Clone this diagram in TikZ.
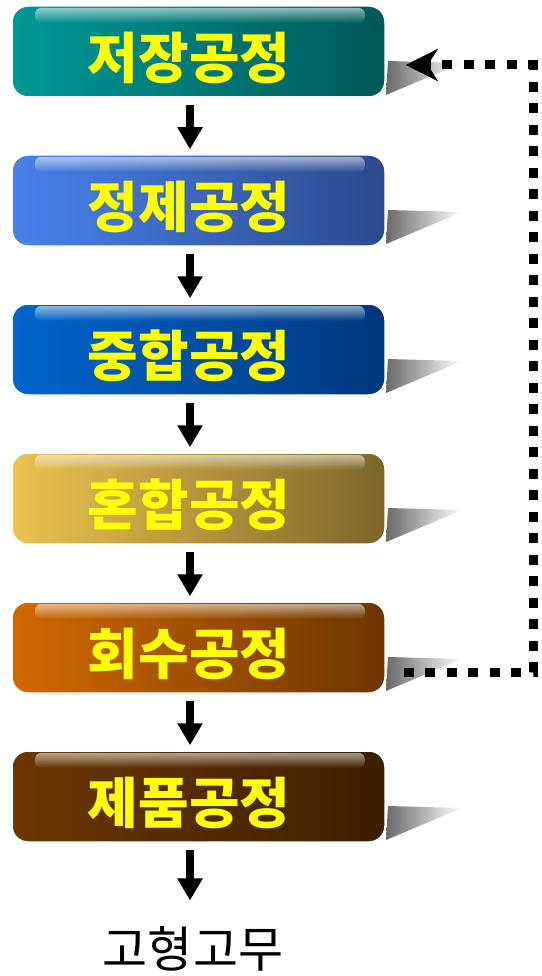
\documentclass[tikz,border=0pt]{standalone}
\usepackage{fontspec}
\newfontfamily\krfont{Noto Sans CJK KR}
\usetikzlibrary{arrows.meta,fadings,calc}
\definecolor{c1l}{RGB}{0,152,150}\definecolor{c1r}{RGB}{0,88,88}
\definecolor{c2l}{RGB}{72,130,235}\definecolor{c2r}{RGB}{44,74,140}
\definecolor{c3l}{RGB}{0,102,205}\definecolor{c3r}{RGB}{0,55,125}
\definecolor{c4l}{RGB}{236,194,80}\definecolor{c4r}{RGB}{125,102,42}
\definecolor{c5l}{RGB}{210,105,0}\definecolor{c5r}{RGB}{108,54,0}
\definecolor{c6l}{RGB}{108,54,0}\definecolor{c6r}{RGB}{60,30,0}
\definecolor{shgray}{RGB}{105,105,105}
\definecolor{txtyellow}{RGB}{255,255,0}
\tikzset{
  x=1pt,y=-1pt,
  procbox/.style={rounded corners=16pt, minimum width=373pt, minimum height=91pt,
    draw=white, line width=1.5pt, inner sep=0pt},
  boxtext/.style={font=\krfont\bfseries\fontsize{55}{58}\selectfont, text=txtyellow, inner sep=0pt},
  flowarrow/.style={line width=8pt, -{Triangle[length=22pt,width=24pt]}, shorten <=7pt, shorten >=5pt},
  feedback/.style={line width=9pt, dash pattern=on 10pt off 11.5pt,
    -{Stealth[length=32pt,width=32pt,inset=10pt]}},
}
\newcommand{\procstep}[4]{% #1 name, #2 top y, #3 color base, #4 text
  \shade[left color=shgray, right color=white]
    (388,#2+55) -- (462,#2+57) -- (386,#2+89) -- cycle;
  \node[procbox, left color=#3l, right color=#3r] (#1) at (198.5,#2+45.5) {};
  \fill[white, fill opacity=0.55, path fading=south, rounded corners=6pt]
    (35,#2+2) rectangle (365,#2+17);
  \node[boxtext] (#1t) at (189,#2+52) {#4};
}
\begin{document}
\begin{tikzpicture}
\useasboundingbox (0,0) rectangle (541,976);
\fill[white] (0,0) rectangle (541,976);
\procstep{b1}{6}{c1}{저장공정}
\procstep{b2}{155}{c2}{정제공정}
\procstep{b3}{304}{c3}{중합공정}
\procstep{b4}{453}{c4}{혼합공정}
\procstep{b5}{602}{c5}{회수공정}
\procstep{b6}{751}{c6}{제품공정}
\node[font=\krfont\fontsize{49}{52}\selectfont, inner sep=0pt] (out) at (193,949) {고형고무};
\foreach \a/\b in {b1/b2,b2/b3,b3/b4,b4/b5,b5/b6}{
  \draw[flowarrow] ([xshift=-8.5pt]\a.south) -- ([xshift=-8.5pt]\b.north);
}
\draw[flowarrow, shorten >=26pt] ([xshift=-8.5pt]b6.south) -- ([xshift=-3pt]out.north);
\coordinate (fbS) at ([xshift=18pt,yshift=-24.5pt]b5.east);
\coordinate (fbE) at ([xshift=20pt,yshift=-13.5pt]b1.east);
\draw[feedback] (fbS) -- (533,672) -- (533,65) -- (fbE);
\end{tikzpicture}
\end{document}
